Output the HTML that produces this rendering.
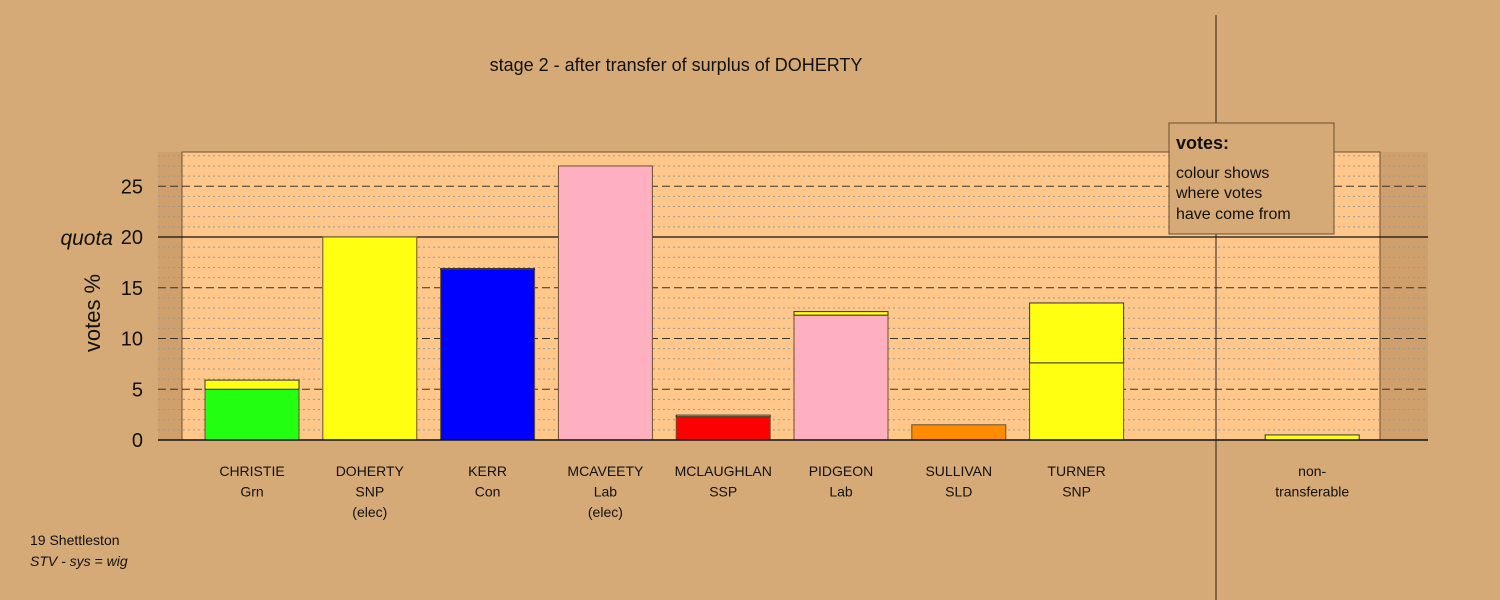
<!DOCTYPE html>
<html><head><meta charset="utf-8"><style>
body{margin:0;background:#d6aa76;}
svg{display:block;font-family:"Liberation Sans",sans-serif;}
</style></head><body>
<svg id="c" width="1500" height="600" viewBox="0 0 1500 600">
<rect x="0" y="0" width="1500" height="600" fill="#d6aa76"/>
<rect x="158" y="152" width="1270" height="288" fill="#cfa06c"/>
<rect x="182" y="152" width="1198" height="288" fill="#ffc88a" stroke="#6b5030" stroke-width="1"/>
<g id="grid"></g>
<g id="bars"></g>
<g id="yax"></g>
<g id="xl"></g>
<line x1="1216" y1="15" x2="1216" y2="600" stroke="#222" stroke-width="1"/>
<text x="676" y="71" font-size="18" text-anchor="middle" fill="#111">stage 2 - after transfer of surplus of DOHERTY</text>
<text x="100" y="313" font-size="22" text-anchor="middle" fill="#111" transform="rotate(-90 100 313)">votes %</text>
<g>
<rect x="1169" y="123" width="165" height="111" fill="#d6aa76" stroke="#6b5030" stroke-width="1"/>
<text x="1176" y="149" font-size="18" font-weight="bold" fill="#111">votes:</text>
<text x="1176" y="178" font-size="16" fill="#111">colour shows</text>
<text x="1176" y="198" font-size="16" fill="#111">where votes</text>
<text x="1176" y="219" font-size="16" fill="#111">have come from</text>
</g>
<text x="30" y="545" font-size="14" fill="#111">19 Shettleston</text>
<text x="30" y="566" font-size="14" font-style="italic" fill="#111">STV - sys = wig</text>
</svg>
<script>
const categories=["CHRISTIE","DOHERTY","KERR","MCAVEETY","MCLAUGHLAN","PIDGEON","SULLIVAN","TURNER","","non-"];
const subLabels=[["Grn"],["SNP","(elec)"],["Con"],["Lab","(elec)"],["SSP"],["Lab"],["SLD"],["SNP"],[],["transferable"]];
const baseValues=[5.0,20,16.8,27.0,2.3,12.3,1.5,7.6,0,0];
const baseColors=["#22ff11","#ffff11","#0000ff","#ffb0c0","#ff0000","#ffb0c0","#ff8c00","#ffff11","none","#ffff11"];
const transferValues=[0.9,0,0.1,0,0.15,0.35,0,5.9,0,0.5];
const transferColors=["#ffff11","#ffff11","#ffff11","#ffff11","#ffff11","#ffff11","#ffff11","#ffff11","#ffff11","#ffff11"];
const yTicks=[0,5,10,15,20,25];
const quota=20;
const NS="http://www.w3.org/2000/svg";
const y=v=>440-v*10.15;
const xc=i=>252+i*117.8;
const bw=94;
function mk(t,a,p){const e=document.createElementNS(NS,t);for(const k in a)e.setAttribute(k,a[k]);p.appendChild(e);return e;}
const grid=document.getElementById('grid');
for(let v=1;v<=28;v++){
  if(v===quota)continue;
  const l=mk('line',{x1:158,x2:1428,y1:y(v),y2:y(v),stroke:v%5===0?'#333':'#999',"stroke-width":1,"stroke-dasharray":v%5===0?'8,4':'2,3'},grid);
  
  
}
const q=mk('line',{x1:158,x2:1428,y1:y(quota),y2:y(quota),stroke:'#111',"stroke-width":1.3},grid);


const bars=document.getElementById('bars');
categories.forEach((c,i)=>{
  const b=baseValues[i],t=transferValues[i];
  if(b>0){const r=mk('rect',{x:xc(i)-bw/2,y:y(b),width:bw,height:y(0)-y(b),fill:baseColors[i],stroke:'#6b5030',"stroke-width":1},bars);
    
    }
  if(t>0){const r=mk('rect',{x:xc(i)-bw/2,y:y(b+t),width:bw,height:y(b)-y(b+t),fill:transferColors[i],stroke:'#333',"stroke-width":1},bars);
    
    }
});
const ax=mk('line',{x1:158,x2:1428,y1:440,y2:440,stroke:'#111',"stroke-width":1.5},bars);


const yax=document.getElementById('yax');
yTicks.forEach(v=>{
  const t=mk('text',{x:143,y:y(v)+7,"font-size":20,"text-anchor":"end",fill:'#111'},yax);
  t.textContent=v;
  
  
});
const ql=mk('text',{x:113,y:y(quota)+8,"font-size":21,"font-style":"italic","text-anchor":"end",fill:'#111'},yax);
ql.textContent='quota';


const xl=document.getElementById('xl');
categories.forEach((c,i)=>{
  const lines=[c].concat(subLabels[i]).filter(s=>s!=='');
  lines.forEach((s,j)=>{
    const t=mk('text',{x:xc(i),y:476+j*20.5,"font-size":14,"text-anchor":"middle",fill:'#111'},xl);
    t.textContent=s;
    
    
  });
});
</script>
</body></html>
